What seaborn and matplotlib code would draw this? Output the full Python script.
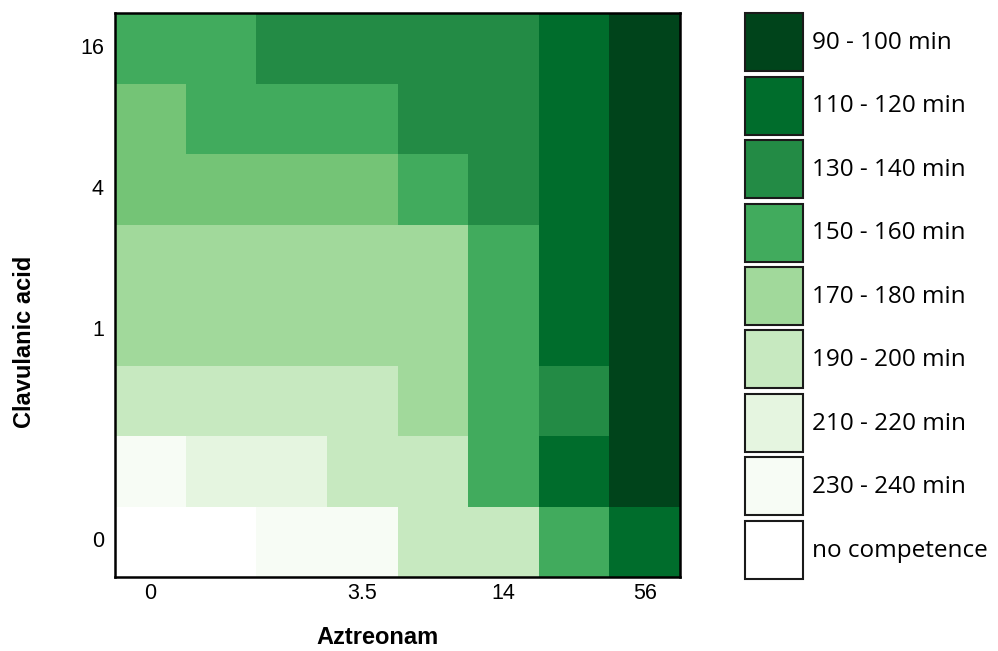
import numpy as np
import pandas as pd
import matplotlib
matplotlib.use("Agg")
import matplotlib.pyplot as plt
from matplotlib.colors import ListedColormap, BoundaryNorm
from matplotlib.patches import Patch
import seaborn as sns

# ---- data ----
aztreonam = ["0", "0.875", "1.75", "3.5", "7", "14", "28", "56"]
clavulanic = ["16", "8", "4", "2", "1", "0.5", "0.25", "0"]  # top to bottom
x_shown = ["0", "3.5", "14", "56"]
y_shown = ["16", "4", "1", "0"]

NC = np.nan  # no competence
row_16 = [155, 155, 135, 135, 135, 135, 115, 95]
row_8 = [165, 155, 155, 155, 135, 135, 115, 95]
row_4 = [165, 165, 165, 165, 155, 135, 115, 95]
row_2 = [175, 175, 175, 175, 175, 155, 115, 95]
row_1 = [175, 175, 175, 175, 175, 155, 115, 95]
row_05 = [195, 195, 195, 195, 175, 155, 135, 95]
row_025 = [235, 215, 215, 195, 195, 155, 115, 95]
row_0 = [NC, NC, 235, 235, 195, 195, 155, 115]

level_colors = ["#00441b", "#006d2c", "#238b45", "#41ab5d", "#74c476",
                "#a1d99b", "#c7e9c0", "#e5f5e0", "#f7fcf5"]
level_bounds = [85, 105, 125, 145, 160, 170, 185, 205, 225, 245]

legend_labels = ["90 - 100 min", "110 - 120 min", "130 - 140 min", "150 - 160 min",
                 "170 - 180 min", "190 - 200 min", "210 - 220 min", "230 - 240 min",
                 "no competence"]
legend_colors = ["#00441b", "#006d2c", "#238b45", "#41ab5d", "#a1d99b",
                 "#c7e9c0", "#e5f5e0", "#f7fcf5", "#ffffff"]

df = pd.DataFrame([row_16, row_8, row_4, row_2, row_1, row_05, row_025, row_0],
                  index=clavulanic, columns=aztreonam)

cmap = ListedColormap(level_colors)
norm = BoundaryNorm(level_bounds, cmap.N)

W, H = 998, 651
fig = plt.figure(figsize=(W / 100, H / 100), dpi=100)
ax = fig.add_axes([115 / W, 1 - 577 / H, 565 / W, 564 / H])

xt = [c if c in x_shown else "" for c in aztreonam]
yt = [r if r in y_shown else "" for r in clavulanic]
sns.heatmap(df, cmap=cmap, norm=norm, cbar=False, ax=ax,
            xticklabels=xt, yticklabels=yt, linewidths=0)

ax.set_xticklabels(xt, rotation=0, fontsize=15.5, family="Liberation Sans", color="black")
ax.set_yticklabels(yt, rotation=0, fontsize=15.5, family="Liberation Sans", color="black")
ax.tick_params(axis="x", length=0, pad=4)
ax.tick_params(axis="y", length=0, pad=8)

for s in ax.spines.values():
    s.set_visible(True)
    s.set_linewidth(1.8)
    s.set_color("black")

ax.set_xlabel("Aztreonam", fontsize=17, fontweight="bold", family="Liberation Sans")
ax.set_ylabel("Clavulanic acid", fontsize=17, fontweight="bold", family="Liberation Sans")
ax.xaxis.set_label_coords((378 - 115) / 565, -(626 - 577) / 564)
ax.yaxis.set_label_coords((36 - 115) / 565, (577 - 342) / 564)

fs = 17.5
fs_px = fs * 100 / 72
box_px = 58
hh = (box_px / fs_px - 0.245) / 0.65
handles = [Patch(facecolor=c, edgecolor="#1a1a1a", linewidth=1.5, label=l)
           for c, l in zip(legend_colors, legend_labels)]
fig.legend(handles=handles, loc="upper left",
           bbox_to_anchor=(745 / W, 1 - 13 / H), bbox_transform=fig.transFigure,
           frameon=False, prop={"family": "Open Sans", "size": fs},
           handlelength=box_px / fs_px, handleheight=hh,
           labelspacing=5.5 / fs_px, handletextpad=9 / fs_px,
           borderpad=0, borderaxespad=0)

fig.savefig("out.png", dpi=100, facecolor="white")
